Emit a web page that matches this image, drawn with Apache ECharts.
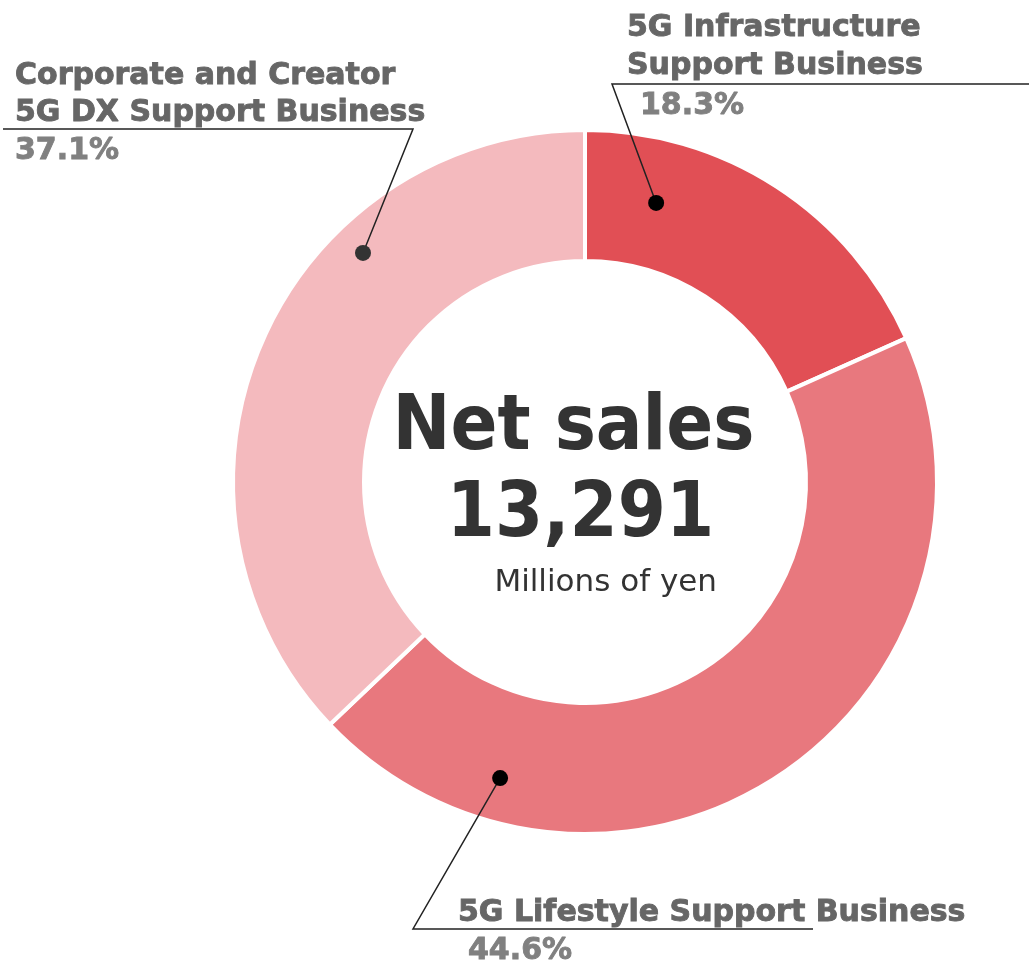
<!DOCTYPE html>
<html>
<head>
<meta charset="utf-8">
<script src="https://cdn.jsdelivr.net/npm/echarts@6/dist/echarts.min.js"></script>
<style>
  html, body { margin: 0; padding: 0; background: #fff; }
  #chart { width: 1029px; height: 962px; }
</style>
</head>
<body>
<div id="chart"></div>
<script>
// Segment names (split into the lines they are printed on) and their share of net sales, %
const segmentLines = [
  ['5G Infrastructure', 'Support Business'],
  ['5G Lifestyle Support Business'],
  ['Corporate and Creator', '5G DX Support Business']
];
const segmentShares = [18.3, 44.6, 37.1];
const segmentColors = ['#e14f55', '#e8787e', '#f4babe'];

// Net sales total, millions of yen
const netSales = 13291;
const centerTitle = 'Net sales';
const centerUnit = 'Millions of yen';

// Leader-line anchor dots inside each ring segment: [radius px, angle deg clockwise from 12 o'clock]
const anchorRadius = [288, 308, 319];
const anchorAngle = [14.3, 196.0, 315.9];

const CENTER = [585, 482];
const R_IN = 221, R_OUT = 352;
const LABEL_FONT = '"DejaVu Sans", Verdana, sans-serif';
const CENTER_FONT = '"DejaVu Sans Condensed", "DejaVu Sans", Verdana, sans-serif';

// Where each label block sits, its line spacing, and how its leader line runs (knee, then end of the rule)
const labelPlacement = [
  { x: 627, y: 9.5, nameLH: 38, pctLH: 42, indent: 13, knee: [612, 84],  end: [1029, 84] },
  { x: 458, y: 894, nameLH: 38, pctLH: 38, indent: 10, knee: [413, 929], end: [813, 929] },
  { x: 15,  y: 58,  nameLH: 37, pctLH: 39, indent: 0,  knee: [413, 129], end: [3, 129] }
];

const chart = echarts.init(document.getElementById('chart'), null, { renderer: 'canvas' });

function labelText(i) {
  const lines = segmentLines[i].map(function (l) { return '{n' + i + '|' + l + '}'; });
  lines.push('{p' + i + '|' + segmentShares[i].toFixed(1) + '%}');
  return lines.join('\n');
}

// Rich text styles: segment names in dark grey, percentages in lighter grey
const richStyles = {};
labelPlacement.forEach(function (L, i) {
  const base = { fontFamily: LABEL_FONT, fontWeight: 'bold', fontSize: 30 };
  richStyles['n' + i] = Object.assign({}, base, {
    color: '#666', textBorderColor: '#666', textBorderWidth: 0.9, lineHeight: L.nameLH
  });
  richStyles['p' + i] = Object.assign({}, base, {
    color: '#808080', textBorderColor: '#808080', textBorderWidth: 0.9, lineHeight: L.pctLH,
    padding: [0, 0, 0, L.indent]
  });
});

function buildOption(anchorPx) {
  const leaders = anchorPx ? anchorPx.map(function (pt, i) {
    return {
      type: 'polyline', z: 4, silent: true,
      shape: { points: [pt, labelPlacement[i].knee, labelPlacement[i].end] },
      style: { stroke: '#222', lineWidth: 1.5, fill: null }
    };
  }) : [];
  return {
    animation: false,
    backgroundColor: '#fff',
    polar: { center: CENTER, radius: R_OUT },
    angleAxis: { type: 'value', min: 0, max: 360, startAngle: 90, clockwise: true, show: false },
    radiusAxis: { type: 'value', min: 0, max: R_OUT, show: false },
    graphic: leaders.concat([
      {
        type: 'text', z: 10, silent: true,
        style: {
          text: centerTitle, x: 573.5, y: 429, align: 'center', verticalAlign: 'middle',
          font: 'bold 77px ' + CENTER_FONT, fill: '#333'
        }
      },
      {
        type: 'text', z: 10, silent: true,
        style: {
          text: netSales.toLocaleString('en-US'), x: 580.5, y: 516, align: 'center', verticalAlign: 'middle',
          font: 'bold 77px ' + CENTER_FONT, fill: '#333'
        }
      },
      {
        type: 'text', z: 10, silent: true,
        style: {
          text: centerUnit, x: 717, y: 583, align: 'right', verticalAlign: 'middle',
          font: '31px "DejaVu Sans", sans-serif', fill: '#333'
        }
      }
    ]),
    series: [
      {
        type: 'pie',
        center: CENTER,
        radius: [R_IN, R_OUT],
        startAngle: 90,
        clockwise: true,
        avoidLabelOverlap: false,
        silent: true,
        itemStyle: { borderColor: '#fff', borderWidth: 4 },
        label: {
          show: true,
          position: 'outside',
          formatter: function (p) { return labelText(p.dataIndex); },
          rich: richStyles
        },
        labelLine: { show: false },
        labelLayout: function (params) {
          const L = labelPlacement[params.dataIndex];
          return { x: L.x, y: L.y, align: 'left', verticalAlign: 'top' };
        },
        data: segmentShares.map(function (v, i) {
          return { value: v, name: segmentLines[i].join(' '), itemStyle: { color: segmentColors[i] } };
        })
      },
      {
        type: 'scatter',
        coordinateSystem: 'polar',
        symbolSize: 16,
        silent: true,
        z: 5,
        itemStyle: { color: '#000', opacity: 1 },
        data: anchorRadius.map(function (r, i) {
          return { value: [r, anchorAngle[i]], itemStyle: { color: i === 2 ? '#333' : '#000' } };
        })
      }
    ]
  };
}

chart.setOption(buildOption(null));
// Leader lines start at the dots, located through the polar coordinate system
const anchorPx = anchorRadius.map(function (r, i) {
  return chart.convertToPixel({ polarIndex: 0 }, [r, anchorAngle[i]]);
});
chart.setOption(buildOption(anchorPx), true);
</script>
</body>
</html>
